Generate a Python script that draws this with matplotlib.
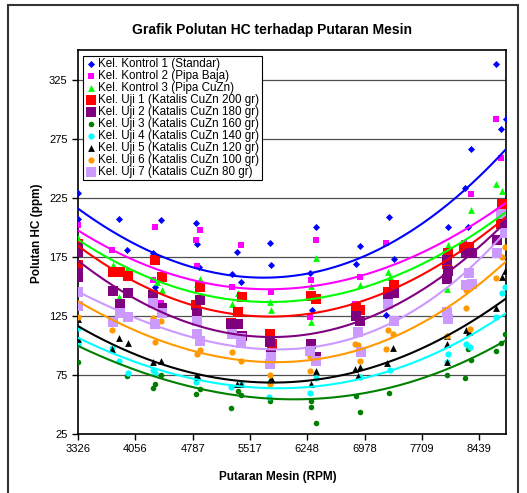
import numpy as np
import matplotlib
matplotlib.use("Agg")
import matplotlib.pyplot as plt
from matplotlib.patches import Rectangle

plt.rcParams['font.family'] = ['Liberation Sans', 'DejaVu Sans']

# sumbu X (RPM)
x_ticks = [3326, 4056.43, 4786.86, 5517.29, 6247.72, 6978.15, 7708.58, 8439.01]
x_tick_labels = ['3326', '4056', '4787', '5517', '6248', '6978', '7709', '8439']
y_ticks = [25, 75, 125, 175, 225, 275, 325]

labels = ['Kel. Kontrol 1 (Standar)', 'Kel. Kontrol 2 (Pipa Baja)', 'Kel. Kontrol 3 (Pipa CuZn)',
          'Kel. Uji 1 (Katalis CuZn 200 gr)', 'Kel. Uji 2 (Katalis CuZn 180 gr)',
          'Kel. Uji 3 (Katalis CuZn 160 gr)', 'Kel. Uji 4 (Katalis CuZn 140 gr)',
          'Kel. Uji 5 (Katalis CuZn 120 gr)', 'Kel. Uji 6 (Katalis CuZn 100 gr)',
          'Kel. Uji 7 (Katalis CuZn 80 gr)']

# data per kelompok (rpm, ppm)
k1_rpm = [3326, 3326, 3853, 3950, 4278, 4389, 4312, 4826, 4847, 4864, 5284, 5357, 5399, 5768, 5781,
          6364, 6287, 6304, 6924, 6865, 7288, 7348, 7255, 8648, 8775, 8711, 8329, 8253, 8036, 8291]
k1_hc = [229, 207, 207, 181, 178, 206, 149, 204, 186, 166, 160, 179, 154, 187, 168,
         200, 161, 130, 184, 169, 209, 173, 126, 338, 292, 283, 266, 233, 200, 200]

k2_rpm = [3326, 3759, 4312, 4278, 4384, 4880, 4826, 4838, 5403, 5284, 5785, 6355, 6300, 6287,
          6915, 6852, 7255, 8648, 8711, 8329, 8249, 8024]
k2_hc = [202, 181, 200, 155, 136, 198, 189, 167, 185, 149, 145, 189, 155, 124,
         158, 135, 187, 292, 259, 228, 187, 157]

k3_rpm = [3326, 3772, 3950, 3853, 4333, 4392, 4877, 4847, 5370, 5284, 5772, 5785, 6364, 6300, 6300,
          6915, 7275, 7297, 8652, 8724, 8333, 8036, 8028]
k3_hc = [191, 168, 165, 141, 154, 147, 156, 152, 144, 135, 137, 130, 174, 150, 120,
         151, 162, 158, 237, 231, 215, 185, 148]

u1_rpm = [3326, 3326, 3772, 3866, 3959, 4312, 4396, 4880, 4826, 5412, 5361, 5275, 5772, 5803,
          6300, 6364, 6873, 6924, 7275, 7348, 8724, 8715, 8762, 8313, 8249, 8036, 8028]
u1_hc = [186, 168, 162, 162, 159, 172, 158, 149, 134, 141, 128, 119, 110, 101,
         142, 139, 132, 130, 145, 151, 220, 203, 203, 183, 182, 178, 169]

u2_rpm = [3326, 3326, 3326, 3326, 3772, 3866, 3959, 4282, 4396, 4880, 4838, 5370, 5421, 5275,
          5772, 5785, 6300, 6364, 6873, 6924, 7275, 7348, 8664, 8766, 8342, 8270, 8028, 8036, 8028]
u2_hc = [182, 179, 161, 158, 146, 135, 144, 143, 132, 138, 127, 118, 108, 118,
         103, 93, 101, 90, 125, 121, 141, 144, 189, 204, 178, 178, 172, 163, 156]

u3_rpm = [3326, 3950, 4278, 4312, 4389, 4835, 4877, 5280, 5365, 5408, 5777, 6291, 6300, 6355,
          6865, 6915, 7284, 8766, 8715, 8652, 8333, 8300, 8262, 8028]
u3_hc = [86, 74, 64, 67, 75, 59, 63, 47, 61, 58, 53, 53, 48, 34,
         57, 44, 60, 110, 102, 95, 88, 97, 72, 75]

u4_rpm = [3326, 3326, 3759, 3853, 3959, 4282, 4312, 4826, 5275, 5403, 5768, 5760, 6287, 6364,
          6915, 7297, 8766, 8724, 8652, 8270, 8325, 8036, 8028]
u4_hc = [115, 101, 98, 87, 77, 79, 77, 69, 65, 67, 69, 56, 60, 72,
         73, 79, 149, 144, 124, 101, 99, 93, 86]

u5_rpm = [3326, 3326, 3759, 3853, 3959, 4282, 4389, 4826, 4860, 5348, 5403, 5781, 6300, 6364,
          6852, 6924, 6893, 7263, 7339, 8766, 8724, 8652, 8270, 8313, 8028, 8028, 8028]
u5_hc = [122, 105, 97, 106, 102, 86, 87, 74, 73, 67, 67, 72, 67, 78,
         80, 82, 74, 85, 98, 163, 158, 132, 113, 111, 108, 101, 86]

u6_rpm = [3326, 3759, 4282, 4384, 4312, 4838, 4880, 5284, 5403, 5772, 5772, 6287, 6287, 6852,
          6893, 6915, 7275, 7339, 7255, 8766, 8724, 8652, 8270, 8325, 8270, 8028]
u6_hc = [124, 113, 123, 121, 103, 93, 96, 94, 87, 75, 67, 91, 78, 101,
         100, 87, 113, 110, 97, 183, 175, 157, 147, 114, 132, 108]

u7_rpm = [3326, 3326, 3772, 3866, 3959, 4282, 4312, 4396, 4838, 4838, 4880, 5284, 5403, 5403,
          5772, 5785, 6287, 6364, 6893, 6937, 7275, 7348, 8766, 8715, 8664, 8313, 8342, 8270, 8028, 8036]
u7_hc = [145, 133, 120, 127, 124, 136, 118, 127, 121, 110, 104, 110, 106, 102,
         84, 90, 95, 87, 111, 94, 135, 121, 195, 211, 178, 161, 152, 151, 128, 122]

all_rpm = [k1_rpm, k2_rpm, k3_rpm, u1_rpm, u2_rpm, u3_rpm, u4_rpm, u5_rpm, u6_rpm, u7_rpm]
all_hc = [k1_hc, k2_hc, k3_hc, u1_hc, u2_hc, u3_hc, u4_hc, u5_hc, u6_hc, u7_hc]

# garis trendline
trend_rpm = [3326, 3700, 4121, 4673, 5284, 6046, 6873, 7425, 8036, 8775]
trend_hc = [
    [215, 199, 185, 168, 160, 158, 170, 191, 223, 264],
    [196, 183, 172, 158, 149, 146, 156, 172, 192, 219],
    [187, 176, 163, 148, 137, 135, 147, 161, 183, 211],
    [182, 169, 154, 134, 128, 125, 132, 150, 178, 206],
    [169, 156, 139, 120, 110, 107, 115, 138, 166, 202],
    [98, 90, 80, 64, 58, 55, 58, 67, 80, 104],
    [105, 96, 87, 72, 66, 63, 70, 84, 97, 127],
    [113, 106, 94, 77, 69, 67, 79, 91, 108, 139],
    [134, 127, 113, 97, 88, 84, 94, 111, 135, 169],
    [142, 137, 124, 108, 98, 96, 106, 124, 151, 195],
]

# gaya marker
colors = ['#0000FF', '#FF00FF', '#00FF00', '#FF0000', '#800080',
          '#008000', '#00FFFF', '#000000', '#FF9900', '#CC99FF']
markers = ['D', 's', '^', 's', 's', 'o', 'o', '^', 'o', 's']
sizes = [13, 14, 24, 42, 42, 16, 20, 24, 20, 42]

fig = plt.figure(figsize=(5.27, 4.93), dpi=100)
ax = fig.add_axes([78 / 527, 1 - 434 / 493, 428 / 527, 384 / 493])

x_lo, x_hi = 3326, 8780
for i in range(10):
    ax.scatter(all_rpm[i], all_hc[i], s=sizes[i], marker=markers[i], color=colors[i],
               linewidths=0, label=labels[i], zorder=3 + i * 0.01)

for i in range(10):
    coef = np.polyfit(trend_rpm, trend_hc[i], 3)
    xx = np.linspace(trend_rpm[0], trend_rpm[-1], 200)
    ax.plot(xx, np.polyval(coef, xx), color=colors[i], lw=1.5, zorder=5)

ax.set_xlim(x_lo, x_hi)
ax.set_ylim(25, 350)
ax.set_xticks(x_ticks)
ax.set_xticklabels(x_tick_labels)
ax.set_yticks(y_ticks)
ax.tick_params(direction='out', length=4, width=1, labelsize=8, colors='black')
ax.grid(axis='y', color='#505050', lw=0.9)
ax.set_axisbelow(True)
for s in ax.spines.values():
    s.set_linewidth(1.2)
    s.set_color('black')

leg = ax.legend(loc='upper left', bbox_to_anchor=(0.012, 0.985), borderaxespad=0,
                fontsize=8.4, frameon=True, fancybox=False, edgecolor='black',
                framealpha=1, borderpad=0.2, handletextpad=0.1, handlelength=1.0,
                labelspacing=0.0, markerscale=1.0)
leg.get_frame().set_linewidth(0.8)
leg.set_zorder(10)

fig.text(272 / 527, 1 - 30 / 493, 'Grafik Polutan HC terhadap Putaran Mesin',
         ha='center', va='center', fontsize=10, fontweight='bold')
fig.text(278 / 527, 1 - 477 / 493, 'Putaran Mesin (RPM)', ha='center', va='center',
         fontsize=8.5, fontweight='bold')
fig.text(37 / 527, 1 - 233 / 493, 'Polutan HC (ppm)', ha='center', va='center',
         fontsize=8.5, fontweight='bold', rotation=90)

fig.patches.append(Rectangle((8 / 527, -0.02), 510 / 527, 1 - 5 / 493 + 0.02,
                             transform=fig.transFigure, fill=False,
                             edgecolor='#333333', lw=1.5))

fig.savefig('out.png', dpi=100)
